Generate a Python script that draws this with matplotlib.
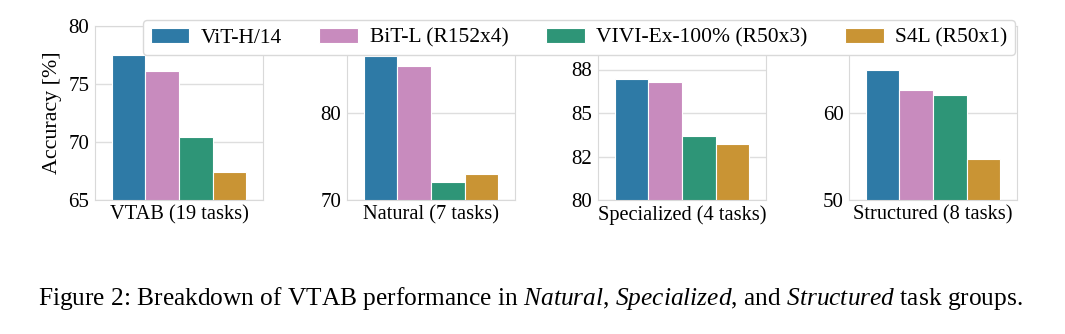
import numpy as np
import matplotlib
matplotlib.use('Agg')
import matplotlib.pyplot as plt
import matplotlib.ticker as mticker

# data
models = ['ViT-H/14', 'BiT-L (R152x4)', 'VIVI-Ex-100% (R50x3)', 'S4L (R50x1)']
groups = ['VTAB (19 tasks)', 'Natural (7 tasks)', 'Specialized (4 tasks)', 'Structured (8 tasks)']
vtab = [77.5, 76.1, 70.4, 67.4]
natural = [86.5, 85.4, 72.1, 73.0]
specialized = [86.95, 86.8, 83.65, 83.2]
structured = [64.9, 62.7, 62.1, 54.7]
ylims = [(65, 80), (70, 90), (80, 90), (50, 70)]
# top ticks of the last three panels sit under the legend
yticks = [[65, 70, 75, 80], [70, 80], [80, 82.5, 85, 87.5], [50, 60]]

values = [vtab, natural, specialized, structured]

colors = ['#2e7aa6', '#c88bbe', '#2e9577', '#c99434']

plt.rcParams['font.family'] = ['Liberation Serif', 'DejaVu Serif']
plt.rcParams['mathtext.fontset'] = 'custom'
plt.rcParams['mathtext.rm'] = 'Liberation Serif'
plt.rcParams['mathtext.it'] = 'Liberation Serif:italic'

W, H = 1065, 334
fig = plt.figure(figsize=(W / 100, H / 100), dpi=100)

lefts = [95, 347, 598, 849]
axw = 168
top, bot = 26, 200

x = np.array([-0.3, -0.1, 0.1, 0.3])
for k in range(4):
    ax = fig.add_axes([lefts[k] / W, 1 - bot / H, axw / W, (bot - top) / H])
    ax.set_axisbelow(True)
    ax.grid(axis='y', color='0.87', lw=1)
    for i in range(4):
        ax.bar(x[i], values[k][i], width=0.2, color=colors[i], edgecolor='white',
               lw=0.8, label=models[i])
    ax.set_xlim(-0.5, 0.5)
    ax.set_ylim(*ylims[k])
    ax.set_yticks(yticks[k])
    ax.yaxis.set_major_formatter(mticker.FormatStrFormatter('%.0f'))
    ax.set_xticks([0])
    ax.set_xticklabels([groups[k]])
    ax.tick_params(length=0, labelsize=15, pad=4)
    ax.tick_params(axis='x', labelsize=14.7, pad=4)
    for s in ax.spines.values():
        s.set_color('0.85')
    if k == 0:
        ax.set_ylabel('Accuracy [%]', fontsize=15.8, labelpad=5)

handles, labels = ax.get_legend_handles_labels()
leg = fig.legend(handles, labels, loc='upper left', bbox_to_anchor=(143 / W, 1 - 20 / H),
                 ncol=4, fontsize=15.5, frameon=True, handlelength=1.8, handletextpad=0.55,
                 columnspacing=1.72, borderpad=0.35, borderaxespad=0, fancybox=True)
leg.get_frame().set_edgecolor('0.85')
leg.get_frame().set_alpha(1)

fig.text(530 / W, 1 - 298 / H,
         r'Figure 2: Breakdown of VTAB performance in $\mathit{Natural}$, '
         r'$\mathit{Specialized}$, and $\mathit{Structured}$ task groups.',
         ha='center', va='center', fontsize=18.3)

fig.savefig('out.png', dpi=100)
